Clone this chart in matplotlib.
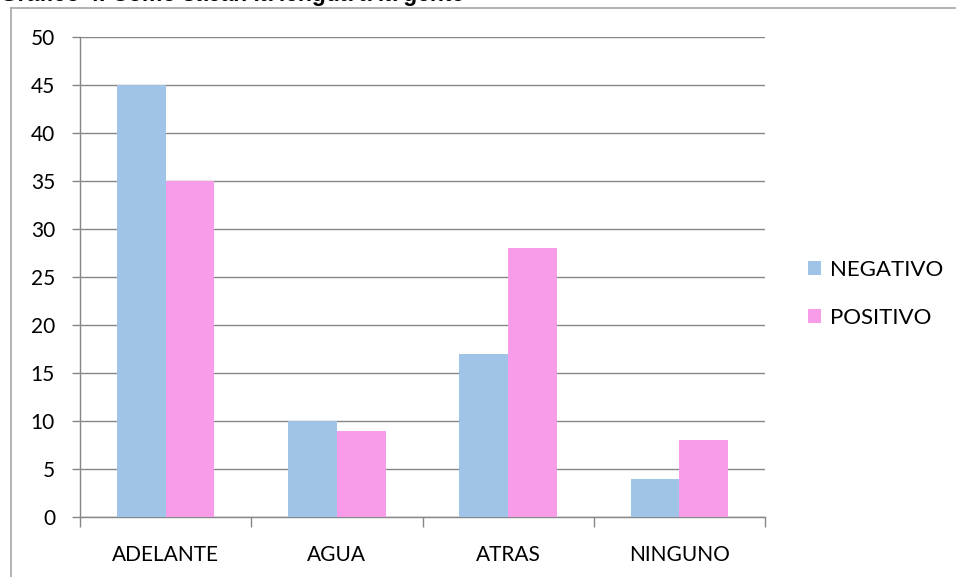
import numpy as np
import matplotlib
matplotlib.use('Agg')
import matplotlib.pyplot as plt
from matplotlib.lines import Line2D

categories = ['ADELANTE', 'AGUA', 'ATRAS', 'NINGUNO']
negativo = [45, 10, 17, 4]
positivo = [35, 9, 28, 8]
series_names = ['NEGATIVO', 'POSITIVO']
yticks = [0, 5, 10, 15, 20, 25, 30, 35, 40, 45, 50]

blue = '#9FC4E7'
pink = '#F89CEA'
grey = '#868686'

plt.rcParams['font.family'] = ['Lato', 'DejaVu Sans']

W, H = 956, 577
fig = plt.figure(figsize=(W / 100, H / 100), dpi=100)

# chart frame (left and top edges)
fig.add_artist(Line2D([11 / W, 11 / W], [0, 1 - 8 / H], transform=fig.transFigure,
                      color='#A6A6A6', lw=1.2))
fig.add_artist(Line2D([11 / W, 1], [1 - 8 / H, 1 - 8 / H], transform=fig.transFigure,
                      color='#A6A6A6', lw=1.2))

# title, mostly above the canvas
fig.text(0.0, 1 - 1 / H, 'Gráfico 4. Como sacan la lengua a la gente',
         fontsize=16.5, fontweight='bold', family='Liberation Sans', va='baseline')

ax = fig.add_axes([80 / W, 60 / H, 685 / W, 480 / H])

x = np.arange(len(categories))
w = 0.284
ax.bar(x - w / 2, negativo, w, color=blue, label=series_names[0], zorder=3)
ax.bar(x + w / 2, positivo, w, color=pink, label=series_names[1], zorder=3)

ax.set_xlim(-0.5, len(categories) - 0.5)
ax.set_ylim(0, 50)
ax.set_yticks(yticks)
ax.yaxis.grid(True, color=grey, lw=1.0, zorder=0)

ax.set_xticks(np.arange(len(categories) + 1) - 0.5)
ax.set_xticklabels([])
ax.set_xticks(x, minor=True)
ax.set_xticklabels(categories, minor=True, fontsize=15)
ax.tick_params(axis='x', which='major', direction='out', length=7, color=grey, width=1)
ax.tick_params(axis='x', which='minor', length=0, pad=20)
ax.tick_params(axis='y', direction='out', length=6, color=grey, width=1,
               labelsize=15, pad=12)

for s in ['top', 'right']:
    ax.spines[s].set_visible(False)
for s in ['left', 'bottom']:
    ax.spines[s].set_color(grey)
    ax.spines[s].set_linewidth(1)

ax.legend(loc='center left', bbox_to_anchor=(1.033, 0.465), frameon=False,
          fontsize=16, handlelength=0.6, handleheight=0.6, handletextpad=0.4,
          labelspacing=1.25)

fig.savefig('out.png', dpi=100)
